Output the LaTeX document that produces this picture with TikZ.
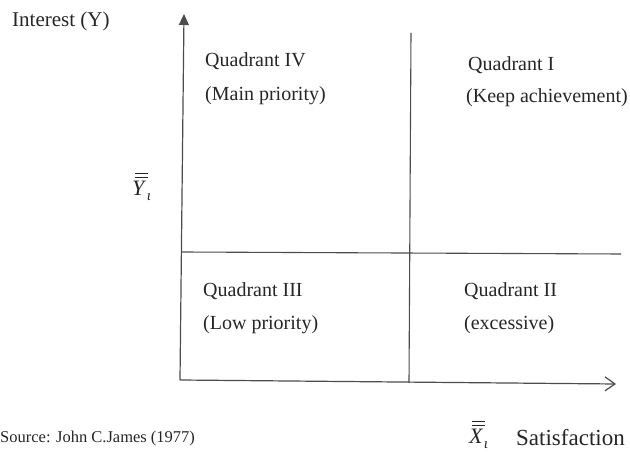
\documentclass[tikz,border=0pt]{standalone}
\usepackage{fontspec}
\setmainfont{Liberation Serif}
\usetikzlibrary{arrows.meta}
\newcommand{\dblbar}[2]{\rlap{\kern0.12em\raisebox{0.84em}{\rule{0.58em}{0.045em}}}\rlap{\kern0.12em\raisebox{0.98em}{\rule{0.58em}{0.045em}}}\textit{#1}\kern0.02em\raisebox{-0.22em}{\fontsize{15}{15}\selectfont\itshape #2}}
\begin{document}
\begin{tikzpicture}[x=1pt,y=-1pt,
  lbl/.style={anchor=base west, inner sep=0pt, font=\fontsize{20}{24}\selectfont, text=black!85},
  big/.style={lbl, font=\fontsize{21}{25}\selectfont},
  small/.style={lbl, font=\fontsize{16.5}{20}\selectfont},
  axisline/.style={line width=1.2pt, draw=black!70},
  divider/.style={line width=1.1pt, draw=black!70}]
\useasboundingbox (0,0) rectangle (630,454);
% axes
\coordinate (O) at (180,380);
\coordinate (Ytop) at (184,14);
\coordinate (Xend) at (616,384);
\draw[axisline,-{Triangle[length=11pt,width=10pt]}] (O) -- (Ytop);
\draw[axisline,-{Straight Barb[length=10pt,width=14pt,line width=1.2pt]}] (O) -- (Xend);
% dividers
\coordinate (vtop) at (411,33);
\coordinate (vbot) at (409,383);
\coordinate (hl) at (182,252);
\coordinate (hr) at (621,254);
\draw[divider] (vtop) -- (vbot);
\draw[divider] (hl) -- (hr);
% labels
\node[big] (interest) at (12,27) {Interest (Y)};
\node[lbl] (q4) at (205,67) {Quadrant IV};
\node[lbl] (q4b) at (205,101) {(Main priority)};
\node[lbl] (q1) at (468,71) {Quadrant I};
\node[lbl] (q1b) at (466,103) {(Keep achievement)};
\node[lbl] (q3) at (203,297) {Quadrant III};
\node[lbl] (q3b) at (203,330) {(Low priority)};
\node[lbl] (q2) at (464,297) {Quadrant II};
\node[lbl] (q2b) at (464,330) {(excessive)};
\node[lbl, font=\fontsize{22}{26}\selectfont] (ybar) at (132,196) {\dblbar{Y}{ι}};
\node[small] (source) at (0,443) {Source: John C.James (1977)};
\node[lbl, font=\fontsize{22}{26}\selectfont] (xbar) at (469,444) {\dblbar{X}{ι}};
\node[lbl, font=\fontsize{23}{27}\selectfont] (sat) at (516,446) {Satisfaction};
\end{tikzpicture}
\end{document}
